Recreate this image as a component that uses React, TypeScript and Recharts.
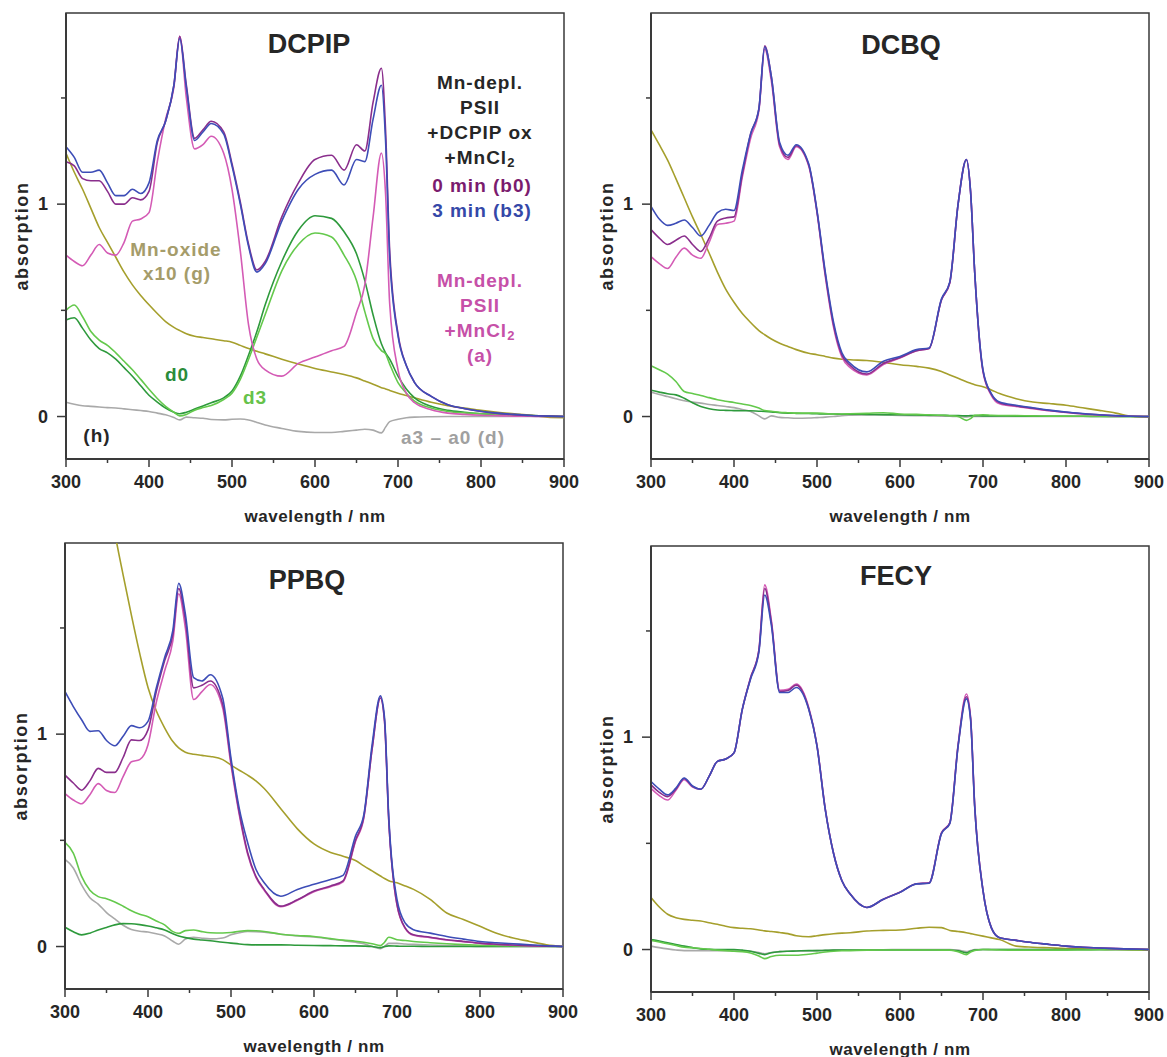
import React from "react";
import { LineChart, Line, XAxis, YAxis, ReferenceArea, Label } from "recharts";

const FONT = '"Liberation Sans", Arial, Helvetica, sans-serif';
const AXIS = "#3a3a3a";
const INK = "#262626";

const COLORS = {
  b0: "#8a2e8c",
  b3: "#3d4db7",
  a: "#d45bb5",
  g: "#a59f2c",
  d0: "#2e9a3c",
  d3: "#64c94c",
  h: "#a9a9a9",
};

// wavelength grid (nm)
const WAVELENGTHS = [
  300, 310, 320, 330, 340, 350, 360, 370, 380, 390,
  400, 410, 420, 430, 437, 445, 455, 465, 475,
  490, 500, 510, 520, 530, 540, 560, 580, 600, 620,
  635, 650, 660, 670, 680, 685, 690, 700, 710, 720,
  740, 760, 780, 800, 820, 840, 860, 880, 900,
];

const X_TICKS = [300, 350, 400, 450, 500, 550, 600, 650, 700, 750, 800, 850, 900];
const Y_TICKS = [0, 0.5, 1, 1.5];

// ---- DCPIP ----
const dcpipB0 = [
  1.2, 1.18, 1.12, 1.11, 1.11, 1.06, 1.0, 1.0, 1.03, 1.02,
  1.06, 1.29, 1.39, 1.56, 1.79, 1.56, 1.31, 1.35, 1.39,
  1.34, 1.19, 1.01, 0.81, 0.69, 0.73, 0.94, 1.1, 1.21, 1.23,
  1.16, 1.28, 1.25, 1.48, 1.64, 1.35, 0.78, 0.39, 0.24, 0.16,
  0.095, 0.056, 0.037, 0.024, 0.015, 0.009, 0.005, 0.002, 0,
];
const dcpipB3 = [
  1.27, 1.22, 1.15, 1.15, 1.16, 1.1, 1.04, 1.04, 1.07, 1.05,
  1.1, 1.3, 1.39, 1.56, 1.78, 1.55, 1.3, 1.34, 1.38,
  1.33, 1.18, 1.0, 0.8, 0.68, 0.72, 0.92, 1.07, 1.14, 1.16,
  1.09, 1.21, 1.2, 1.4, 1.56, 1.3, 0.75, 0.38, 0.24, 0.16,
  0.095, 0.056, 0.038, 0.025, 0.016, 0.01, 0.005, 0.002, 0,
];
const dcpipA = [
  0.76, 0.73, 0.71, 0.76, 0.81, 0.77, 0.76, 0.82, 0.92, 0.93,
  0.96, 1.2, 1.4, 1.55, 1.79, 1.5, 1.26, 1.28, 1.32,
  1.24, 1.07, 0.78, 0.43, 0.27, 0.22, 0.19, 0.25, 0.28, 0.31,
  0.33, 0.49, 0.62, 0.94, 1.24, 1.05, 0.53, 0.22, 0.11, 0.065,
  0.032, 0.016, 0.01, 0.006, 0.004, 0.002, 0.001, 0, 0,
];
const dcpipG = [
  1.24, 1.15, 1.07, 0.98, 0.89, 0.82, 0.75, 0.68, 0.62, 0.57,
  0.526, 0.485, 0.447, 0.42, 0.405, 0.39, 0.378, 0.372, 0.366,
  0.357, 0.35, 0.335, 0.32, 0.307, 0.295, 0.27, 0.247, 0.226, 0.21,
  0.198, 0.182, 0.167, 0.152, 0.136, 0.13, 0.123, 0.11, 0.099, 0.088,
  0.067, 0.051, 0.04, 0.029, 0.02, 0.013, 0.006, -0.003, -0.005,
];
const dcpipD0 = [
  0.455, 0.465, 0.415, 0.36, 0.32, 0.3, 0.27, 0.23, 0.19, 0.145,
  0.1, 0.068, 0.04, 0.02, 0.013, 0.02, 0.035, 0.05, 0.065,
  0.088, 0.12, 0.19, 0.29, 0.4, 0.526, 0.73, 0.877, 0.945, 0.933,
  0.87, 0.766, 0.64, 0.478, 0.343, 0.3, 0.27, 0.19, 0.13, 0.088,
  0.048, 0.029, 0.02, 0.013, 0.01, 0.007, 0.005, 0.002, 0,
];
const dcpipD3 = [
  0.5, 0.525, 0.47, 0.4, 0.36, 0.335, 0.3, 0.26, 0.22, 0.175,
  0.128, 0.085, 0.048, 0.02, 0.003, 0.01, 0.03, 0.042, 0.052,
  0.08, 0.11, 0.175, 0.27, 0.375, 0.48, 0.686, 0.81, 0.864, 0.845,
  0.76, 0.64, 0.494, 0.367, 0.31, 0.295, 0.247, 0.16, 0.11, 0.072,
  0.04, 0.024, 0.017, 0.013, 0.01, 0.007, 0.005, 0.002, 0,
];
const dcpipH = [
  0.067, 0.058, 0.051, 0.048, 0.045, 0.042, 0.04, 0.036, 0.032, 0.028,
  0.024, 0.016, 0.008, -0.005, -0.016, -0.003, -0.006, -0.008, -0.014,
  -0.016, -0.013, -0.012, -0.016, -0.028, -0.04, -0.056, -0.07, -0.075, -0.075,
  -0.07, -0.064, -0.06, -0.064, -0.077, -0.05, -0.024, -0.013, -0.006, -0.003,
  -0.001, 0, 0, 0, 0, 0, 0, 0, 0,
];

// ---- DCBQ ----
const dcbqB0 = [
  0.88, 0.84, 0.81, 0.83, 0.85, 0.81, 0.777, 0.84, 0.92, 0.935,
  0.94, 1.14, 1.33, 1.45, 1.745, 1.6, 1.28, 1.22, 1.275,
  1.185, 0.965, 0.67, 0.43, 0.29, 0.24, 0.2, 0.25, 0.278, 0.31,
  0.32, 0.55, 0.63, 1.0, 1.21, 1.06, 0.68, 0.215, 0.105, 0.065,
  0.05, 0.039, 0.028, 0.02, 0.013, 0.008, 0.004, 0.001, 0,
];
const dcbqB3 = [
  0.99, 0.93, 0.9, 0.91, 0.925, 0.89, 0.85, 0.9, 0.96, 0.976,
  0.97, 1.16, 1.33, 1.45, 1.74, 1.6, 1.29, 1.23, 1.28,
  1.19, 0.97, 0.68, 0.443, 0.3, 0.25, 0.21, 0.26, 0.283, 0.315,
  0.323, 0.554, 0.634, 1.0, 1.21, 1.06, 0.68, 0.22, 0.108, 0.068,
  0.053, 0.041, 0.03, 0.021, 0.014, 0.008, 0.004, 0.001, 0,
];
const dcbqA = [
  0.753, 0.72, 0.697, 0.75, 0.793, 0.76, 0.745, 0.82, 0.904, 0.91,
  0.92, 1.127, 1.31, 1.44, 1.73, 1.58, 1.27, 1.21, 1.27,
  1.18, 0.96, 0.66, 0.42, 0.28, 0.23, 0.196, 0.245, 0.275, 0.31,
  0.32, 0.55, 0.63, 1.0, 1.21, 1.06, 0.68, 0.21, 0.1, 0.06,
  0.047, 0.037, 0.027, 0.019, 0.012, 0.007, 0.003, 0.001, 0,
];
const dcbqG = [
  1.35, 1.28, 1.207, 1.12, 1.03, 0.94, 0.857, 0.77, 0.68, 0.6,
  0.538, 0.485, 0.443, 0.405, 0.385, 0.365, 0.345, 0.33, 0.315,
  0.298, 0.291, 0.283, 0.275, 0.27, 0.267, 0.264, 0.255, 0.244, 0.236,
  0.228, 0.212, 0.196, 0.18, 0.164, 0.157, 0.15, 0.14, 0.125, 0.108,
  0.084, 0.068, 0.061, 0.053, 0.041, 0.029, 0.016, 0.0, -0.003,
];
const dcbqD0 = [
  0.124, 0.115, 0.107, 0.102, 0.086, 0.065, 0.047, 0.037, 0.031, 0.029,
  0.028, 0.027, 0.027, 0.025, 0.024, 0.022, 0.018, 0.016, 0.015,
  0.014, 0.013, 0.012, 0.012, 0.011, 0.011, 0.01, 0.009, 0.008, 0.007,
  0.006, 0.006, 0.005, 0.005, 0.003, 0.004, 0.004, 0.003, 0.003, 0.003,
  0.002, 0.002, 0.001, 0.001, 0.001, 0, 0, 0, 0,
];
const dcbqD3 = [
  0.239, 0.22, 0.2, 0.165, 0.118, 0.108, 0.099, 0.089, 0.079, 0.072,
  0.066, 0.059, 0.052, 0.04, 0.028, 0.025, 0.02, 0.018, 0.016,
  0.016, 0.016, 0.014, 0.012, 0.012, 0.013, 0.015, 0.018, 0.012, 0.01,
  0.008, 0.006, 0.004, 0.0, -0.018, -0.01, 0.006, 0.008, 0.006, 0.005,
  0.004, 0.003, 0.002, 0.002, 0.001, 0.001, 0, 0, 0,
];
const dcbqH = [
  0.115, 0.104, 0.094, 0.084, 0.074, 0.068, 0.063, 0.057, 0.052, 0.047,
  0.042, 0.033, 0.024, 0.003, -0.011, 0.003, -0.004, -0.006, -0.008,
  -0.007, -0.005, -0.003, 0.0, 0.004, 0.006, 0.008, 0.007, 0.005, 0.004,
  0.003, 0.002, 0.001, 0.0, -0.002, 0, 0, 0, 0, 0,
  0, 0, 0, 0, 0, 0, 0, 0, 0,
];

// ---- PPBQ ----
const ppbqB0 = [
  0.807, 0.77, 0.736, 0.78, 0.839, 0.82, 0.82, 0.89, 0.973, 0.97,
  1.02, 1.2, 1.345, 1.47, 1.685, 1.54, 1.218, 1.23, 1.25,
  1.14, 0.87, 0.63, 0.443, 0.33, 0.269, 0.19, 0.22, 0.261, 0.285,
  0.309, 0.5, 0.61, 0.93, 1.17, 1.06, 0.6, 0.198, 0.087, 0.055,
  0.044, 0.032, 0.024, 0.016, 0.011, 0.007, 0.004, 0.002, 0,
];
const ppbqB3 = [
  1.2, 1.13, 1.068, 1.013, 1.016, 0.97, 0.945, 0.99, 1.04, 1.03,
  1.06, 1.218, 1.36, 1.49, 1.71, 1.566, 1.266, 1.25, 1.28,
  1.17, 0.886, 0.649, 0.49, 0.364, 0.3, 0.237, 0.269, 0.293, 0.316,
  0.335, 0.52, 0.62, 0.95, 1.18, 1.076, 0.617, 0.222, 0.11, 0.079,
  0.063, 0.047, 0.035, 0.024, 0.018, 0.013, 0.008, 0.004, 0,
];
const ppbqA = [
  0.72, 0.69, 0.672, 0.715, 0.767, 0.735, 0.725, 0.8, 0.87, 0.88,
  0.95, 1.15, 1.297, 1.44, 1.661, 1.5, 1.163, 1.2, 1.234,
  1.123, 0.854, 0.62, 0.435, 0.325, 0.265, 0.187, 0.218, 0.258, 0.282,
  0.305, 0.495, 0.605, 0.93, 1.17, 1.06, 0.6, 0.195, 0.085, 0.053,
  0.042, 0.031, 0.023, 0.015, 0.01, 0.006, 0.003, 0.001, 0,
];
const ppbqG = [
  4.2, 3.7, 3.25, 2.85, 2.5, 2.2, 1.95, 1.75, 1.56, 1.38,
  1.22, 1.11, 1.03, 0.965, 0.935, 0.915, 0.905, 0.9, 0.895,
  0.88, 0.854, 0.83, 0.807, 0.78, 0.744, 0.649, 0.554, 0.483, 0.443,
  0.425, 0.405, 0.38, 0.356, 0.332, 0.32, 0.31, 0.3, 0.285, 0.269,
  0.222, 0.158, 0.127, 0.095, 0.063, 0.04, 0.024, 0.008, 0,
];
const ppbqD0 = [
  0.091, 0.07, 0.055, 0.063, 0.078, 0.09, 0.102, 0.108, 0.107, 0.103,
  0.097, 0.088, 0.078, 0.06, 0.05, 0.042, 0.035, 0.031, 0.027,
  0.02, 0.016, 0.012, 0.009, 0.008, 0.008, 0.008, 0.006, 0.005, 0.004,
  0.003, 0.003, 0.002, 0.0, -0.005, 0.0, 0.003, 0.002, 0.001, 0.001,
  0, 0, 0, 0, 0, 0, 0, 0, 0,
];
const ppbqD3 = [
  0.49, 0.44, 0.33, 0.265, 0.235, 0.225, 0.21, 0.19, 0.168, 0.152,
  0.14, 0.12, 0.102, 0.07, 0.062, 0.075, 0.078, 0.07, 0.065,
  0.064, 0.066, 0.072, 0.075, 0.074, 0.071, 0.058, 0.052, 0.047, 0.037,
  0.03, 0.025, 0.02, 0.013, 0.004, 0.02, 0.044, 0.032, 0.028, 0.024,
  0.018, 0.013, 0.009, 0.006, 0.004, 0.003, 0.002, 0.001, 0,
];
const ppbqH = [
  0.41, 0.37, 0.29, 0.23, 0.2, 0.16, 0.13, 0.1, 0.08, 0.072,
  0.068, 0.06, 0.05, 0.025, 0.011, 0.035, 0.044, 0.039, 0.036,
  0.04, 0.055, 0.065, 0.071, 0.07, 0.068, 0.058, 0.05, 0.045, 0.035,
  0.028, 0.02, 0.013, 0.0, -0.01, 0.0, 0.015, 0.015, 0.012, 0.01,
  0.007, 0.005, 0.003, 0.0, 0, 0, 0, 0, 0,
];

// ---- FECY ----
const fecyB0 = [
  0.775, 0.74, 0.72, 0.755, 0.805, 0.768, 0.755, 0.815, 0.886, 0.897,
  0.926, 1.131, 1.28, 1.41, 1.7, 1.54, 1.215, 1.22, 1.245,
  1.135, 0.96, 0.66, 0.452, 0.324, 0.261, 0.198, 0.237, 0.27, 0.31,
  0.313, 0.548, 0.595, 0.96, 1.19, 1.09, 0.675, 0.278, 0.103, 0.055,
  0.043, 0.032, 0.024, 0.016, 0.011, 0.007, 0.004, 0.002, 0,
];
const fecyB3 = [
  0.791, 0.755, 0.728, 0.76, 0.807, 0.77, 0.755, 0.815, 0.886, 0.897,
  0.926, 1.131, 1.274, 1.4, 1.669, 1.527, 1.21, 1.21, 1.234,
  1.131, 0.957, 0.657, 0.451, 0.324, 0.261, 0.198, 0.237, 0.269, 0.309,
  0.312, 0.546, 0.593, 0.957, 1.18, 1.084, 0.672, 0.277, 0.103, 0.055,
  0.043, 0.032, 0.024, 0.016, 0.011, 0.007, 0.004, 0.002, 0,
];
const fecyA = [
  0.759, 0.725, 0.704, 0.75, 0.8, 0.765, 0.755, 0.815, 0.886, 0.897,
  0.926, 1.131, 1.28, 1.41, 1.717, 1.55, 1.22, 1.225, 1.25,
  1.14, 0.96, 0.66, 0.452, 0.324, 0.261, 0.198, 0.237, 0.27, 0.31,
  0.314, 0.55, 0.597, 0.965, 1.203, 1.095, 0.68, 0.278, 0.103, 0.055,
  0.043, 0.032, 0.024, 0.016, 0.011, 0.007, 0.004, 0.002, 0,
];
const fecyG = [
  0.245, 0.2, 0.166, 0.15, 0.142, 0.138, 0.134, 0.126, 0.119, 0.11,
  0.103, 0.1, 0.098, 0.092, 0.088, 0.085, 0.08, 0.075, 0.065,
  0.06, 0.065, 0.07, 0.074, 0.077, 0.079, 0.087, 0.09, 0.092, 0.1,
  0.105, 0.103, 0.09, 0.085, 0.079, 0.075, 0.071, 0.063, 0.055, 0.047,
  0.016, 0.011, 0.008, 0.005, 0.003, 0.001, 0, -0.002, -0.003,
];
const fecyD0 = [
  0.047, 0.04, 0.032, 0.024, 0.016, 0.009, 0.003, 0.001, 0, 0,
  0, -0.003, -0.008, -0.018, -0.024, -0.015, -0.01, -0.008, -0.007,
  -0.005, -0.005, -0.004, -0.003, -0.003, -0.002, -0.002, -0.002, -0.002, -0.002,
  -0.002, -0.002, -0.003, -0.006, -0.016, -0.008, -0.002, 0, 0, 0,
  0, 0, 0, 0, 0, 0, 0, 0, 0,
];
const fecyD3 = [
  0.043, 0.035, 0.027, 0.019, 0.011, 0.008, 0.005, 0.001, -0.003, -0.005,
  -0.008, -0.01, -0.016, -0.03, -0.043, -0.033, -0.027, -0.027, -0.027,
  -0.022, -0.017, -0.012, -0.008, -0.006, -0.005, -0.003, -0.002, -0.002, -0.002,
  -0.002, -0.003, -0.003, -0.01, -0.024, -0.012, -0.005, 0, -0.001, -0.002,
  -0.003, -0.003, -0.003, -0.003, -0.002, -0.001, 0, 0, 0,
];
const fecyH = [
  0.016, 0.009, 0.003, -0.002, -0.005, -0.005, -0.005, -0.005, -0.005, -0.005,
  -0.005, -0.006, -0.008, -0.014, -0.02, -0.014, -0.01, -0.008, -0.007,
  -0.006, -0.005, -0.004, -0.003, -0.002, -0.002, -0.001, -0.001, 0, 0,
  0, 0, 0, -0.003, -0.01, -0.005, 0, 0, 0, 0,
  0, 0, 0, 0, 0, 0, 0, 0, 0,
];

type Spectra = Record<"b0" | "b3" | "a" | "g" | "d0" | "d3" | "h", number[]>;

// draw order: bottom first, blue on top
const SERIES_ORDER: (keyof Spectra)[] = ["h", "g", "d0", "d3", "a", "b0", "b3"];

const XTick = (props: any) => {
  const { x, y, payload } = props;
  const major = payload.value % 100 === 0;
  return (
    <g>
      <line x1={x} x2={x} y1={y} y2={y + (major ? 8 : 4)} stroke={AXIS} strokeWidth={1.5} />
      {major && (
        <text x={x} y={y + 23} textAnchor="middle" dominantBaseline="central"
          fontFamily={FONT} fontWeight="bold" fontSize={18} fill={INK}>
          {payload.value}
        </text>
      )}
    </g>
  );
};

const YTick = (props: any) => {
  const { x, y, payload } = props;
  const major = Number.isInteger(payload.value);
  return (
    <g>
      <line x1={x - (major ? 9 : 5)} x2={x} y1={y} y2={y} stroke={AXIS} strokeWidth={1.5} />
      {major && (
        <text x={x - 18} y={y} textAnchor="end" dominantBaseline="central"
          fontFamily={FONT} fontWeight="bold" fontSize={18} fill={INK}>
          {payload.value}
        </text>
      )}
    </g>
  );
};

const XTitle = (props: any) => {
  const { x, y, width } = props.viewBox;
  return (
    <text x={x + width / 2} y={y + 57} textAnchor="middle" dominantBaseline="central"
      fontFamily={FONT} fontWeight="bold" fontSize={17} letterSpacing={0.6} fill={INK}>
      wavelength / nm
    </text>
  );
};

const YTitle = (props: any) => {
  const { x, y, width, height } = props.viewBox;
  const cx = x + width - 44.5;
  const cy = y + height / 2;
  return (
    <text x={cx} y={cy} transform={`rotate(-90 ${cx} ${cy})`} textAnchor="middle"
      dominantBaseline="central" fontFamily={FONT} fontWeight="bold" fontSize={18}
      letterSpacing={1.6} fill={INK}>
      absorption
    </text>
  );
};

const Panel = ({ spectra, left, top }: { spectra: Spectra; left: number; top: number }) => {
  const rows = WAVELENGTHS.map((wl, i) => {
    const row: Record<string, number> = { wl };
    SERIES_ORDER.forEach((k) => (row[k] = spectra[k][i]));
    return row;
  });
  return (
    <div style={{ position: "absolute", left, top }}>
      <LineChart width={580} height={530} data={rows}
        margin={{ top: 13, right: 16, bottom: 0, left: 0 }}>
        <XAxis dataKey="wl" type="number" domain={[300, 900]} ticks={X_TICKS} interval={0}
          tickSize={0} tickMargin={0} tickLine={false} tick={<XTick />} height={71}
          axisLine={{ stroke: AXIS, strokeWidth: 2 }}>
          <Label content={<XTitle />} />
        </XAxis>
        <YAxis type="number" domain={[-0.2, 1.9]} allowDataOverflow ticks={Y_TICKS} interval={0}
          tickSize={0} tickMargin={0} tickLine={false} tick={<YTick />} width={66}
          axisLine={{ stroke: AXIS, strokeWidth: 2 }}>
          <Label content={<YTitle />} />
        </YAxis>
        <ReferenceArea x1={300} x2={900} y1={-0.2} y2={1.9} fill="none" fillOpacity={0}
          stroke={AXIS} strokeWidth={1.5} />
        {SERIES_ORDER.map((k) => (
          <Line key={k} dataKey={k} type="monotone" stroke={COLORS[k]} strokeWidth={1.6}
            dot={false} isAnimationActive={false} />
        ))}
      </LineChart>
    </div>
  );
};

const T = ({ x, y, size = 19, color = INK, children }: any) => (
  <text x={x} y={y} textAnchor="middle" dominantBaseline="central" fontFamily={FONT}
    fontWeight="bold" fontSize={size} letterSpacing={size > 22 ? 0 : 1} fill={color}>
    {children}
  </text>
);

const Sub2 = () => (
  <tspan dy={5} fontSize={13}>2</tspan>
);

export default function App() {
  return (
    <div style={{ position: "absolute", left: 0, top: 0, width: 1167, height: 1057,
      overflow: "hidden", background: "#fff" }}>
      <Panel left={0} top={0}
        spectra={{ b0: dcpipB0, b3: dcpipB3, a: dcpipA, g: dcpipG, d0: dcpipD0, d3: dcpipD3, h: dcpipH }} />
      <Panel left={585} top={0}
        spectra={{ b0: dcbqB0, b3: dcbqB3, a: dcbqA, g: dcbqG, d0: dcbqD0, d3: dcbqD3, h: dcbqH }} />
      <Panel left={-1} top={530}
        spectra={{ b0: ppbqB0, b3: ppbqB3, a: ppbqA, g: ppbqG, d0: ppbqD0, d3: ppbqD3, h: ppbqH }} />
      <Panel left={585} top={533}
        spectra={{ b0: fecyB0, b3: fecyB3, a: fecyA, g: fecyG, d0: fecyD0, d3: fecyD3, h: fecyH }} />
      <svg width={1167} height={1057}
        style={{ position: "absolute", left: 0, top: 0, pointerEvents: "none" }}>
        <T x={309} y={44} size={27}>DCPIP</T>
        <T x={901} y={45} size={27}>DCBQ</T>
        <T x={307} y={580} size={27}>PPBQ</T>
        <T x={896} y={576} size={27}>FECY</T>

        <T x={480} y={82}>Mn-depl.</T>
        <T x={480} y={107}>PSII</T>
        <T x={480} y={132}>+DCPIP ox</T>
        <T x={480} y={157}>+MnCl<Sub2 /></T>
        <T x={482} y={185} color="#7b1b6e">0 min (b0)</T>
        <T x={482} y={210} color="#3548a8">3 min (b3)</T>

        <T x={480} y={280} color="#c650a8">Mn-depl.</T>
        <T x={480} y={305} color="#c650a8">PSII</T>
        <T x={480} y={330} color="#c650a8">+MnCl<Sub2 /></T>
        <T x={480} y={355} color="#c650a8">(a)</T>

        <T x={176} y={249} color="#a59c6a">Mn-oxide</T>
        <T x={177} y={273} color="#a59c6a">x10 (g)</T>
        <T x={177} y={374} color="#2b8c3a">d0</T>
        <T x={255} y={397} color="#66c24a">d3</T>
        <T x={97} y={435}>(h)</T>
        <T x={453} y={437} color="#a0a0a0">a3 – a0 (d)</T>
      </svg>
    </div>
  );
}
